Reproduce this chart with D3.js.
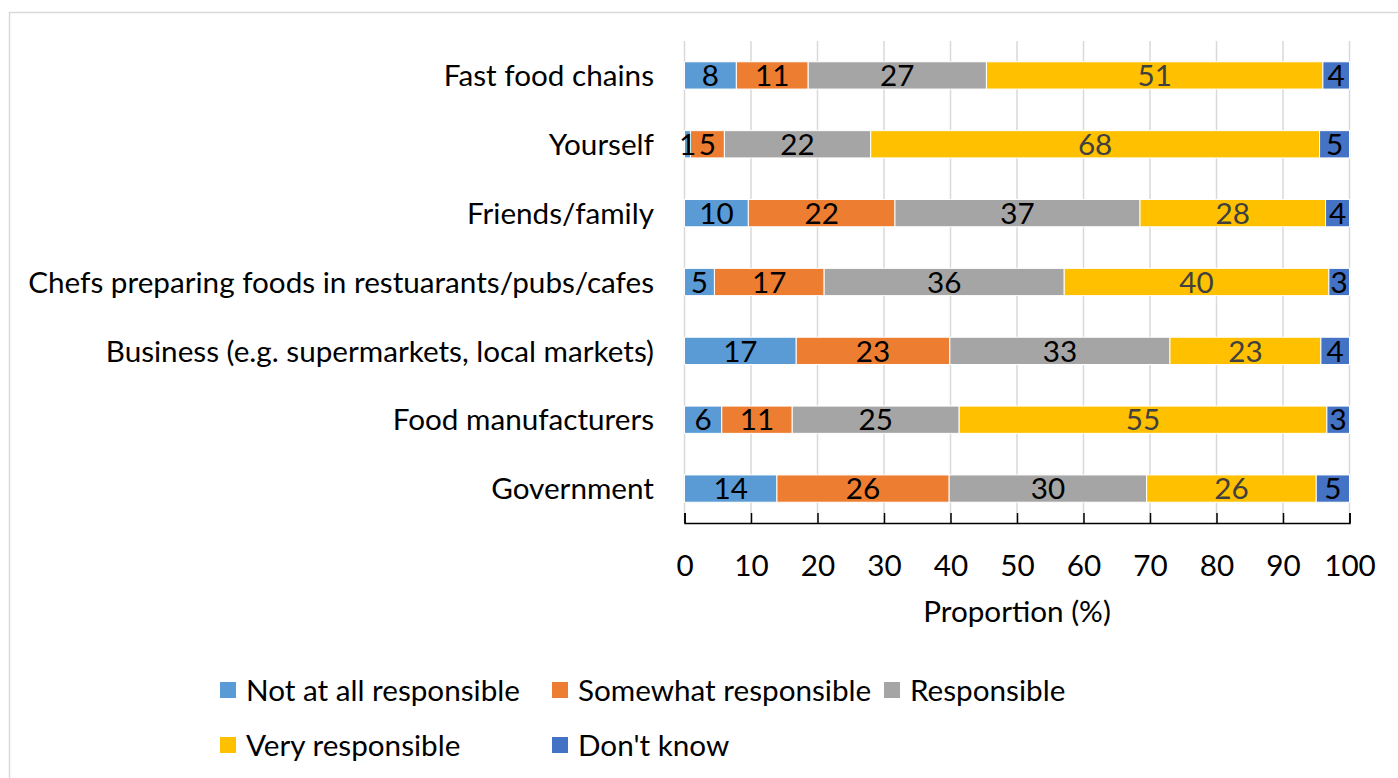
<!DOCTYPE html>
<html>
<head>
<meta charset="utf-8">
<script src="https://cdn.jsdelivr.net/npm/d3@7"></script>
<style>
  html, body { margin: 0; padding: 0; background: #ffffff; }
  svg { display: block; }
</style>
</head>
<body>
<svg id="chart" width="1398" height="778"></svg>
<script>
const categories = [
  "Fast food chains",
  "Yourself",
  "Friends/family",
  "Chefs preparing foods in restuarants/pubs/cafes",
  "Business (e.g. supermarkets, local markets)",
  "Food manufacturers",
  "Government"
];
const seriesNames = ["Not at all responsible", "Somewhat responsible", "Responsible", "Very responsible", "Don't know"];
const notAtAll   = [7.8, 0.9, 9.6, 4.5, 16.8, 5.6, 13.9];
const somewhat   = [10.8, 5.1, 22.05, 16.5, 23.1, 10.6, 25.9];
const responsible= [26.8, 22.0, 36.85, 36.1, 33.1, 25.1, 29.7];
const very       = [50.6, 67.5, 27.9, 39.8, 22.7, 55.3, 25.5];
const dontKnow   = [4.0, 4.5, 3.6, 3.1, 4.3, 3.4, 5.0];
const xTicks = [0, 10, 20, 30, 40, 50, 60, 70, 80, 90, 100];
const xTitle = "Proportion (%)";

const colors = ["#5B9BD5", "#ED7D31", "#A5A5A5", "#FFC000", "#4472C4"];
const labelColors = ["#000000", "#000000", "#000000", "#404040", "#000000"];
const FONT = "Lato, 'Open Sans', sans-serif";

const svg = d3.select("#chart");

// outer frame
svg.append("rect").attr("x", 9.5).attr("y", 12.5).attr("width", 1420).attr("height", 800)
  .attr("fill", "#ffffff").attr("stroke", "#D9D9D9").attr("stroke-width", 1.5);

// fit font size to target width of the widest category label
const probe = svg.append("text").attr("font-family", FONT).attr("font-size", 24).text(categories[3]);
const w24 = probe.node().getComputedTextLength();
probe.remove();
const FS = 24 * 626 / w24;

const rows = categories.map((c, i) => ({
  cat: c,
  vals: [notAtAll[i], somewhat[i], responsible[i], very[i], dontKnow[i]]
}));
const keys = [0, 1, 2, 3, 4];
const stacked = d3.stack().keys(keys).value((d, k) => d.vals[k])(rows);

const x = d3.scaleLinear().domain([0, 100]).range([684.5, 1349.5]);
const y = d3.scaleBand().domain(categories).range([41, 523]).paddingInner(0.604).paddingOuter(0.302);

// gridlines
svg.append("g").selectAll("line").data(xTicks).join("line")
  .attr("x1", d => x(d)).attr("x2", d => x(d))
  .attr("y1", 41).attr("y2", 523)
  .attr("stroke", "#D9D9D9").attr("stroke-width", 1.5);

// bars
const gBars = svg.append("g");
stacked.forEach((layer, li) => {
  gBars.append("g").selectAll("rect").data(layer).join("rect")
    .attr("x", d => x(d[0]))
    .attr("width", d => x(d[1]) - x(d[0]))
    .attr("y", d => y(d.data.cat))
    .attr("height", y.bandwidth())
    .attr("fill", colors[li])
    .attr("stroke", "#ffffff").attr("stroke-width", 1);
});

// data labels
stacked.forEach((layer, li) => {
  svg.append("g").selectAll("text").data(layer).join("text")
    .attr("x", d => (x(d[0]) + x(d[1])) / 2)
    .attr("y", d => y(d.data.cat) + y.bandwidth() / 2)
    .attr("dy", "0.36em")
    .attr("text-anchor", "middle")
    .attr("font-family", FONT).attr("font-size", FS)
    .attr("fill", labelColors[li])
    .text(d => Math.round(d[1] - d[0]));
});

// x axis
const xAxis = d3.axisBottom(x).tickValues(xTicks).tickSizeInner(-10).tickSizeOuter(-10).tickPadding(38);
const gx = svg.append("g").attr("transform", "translate(0,523)").call(xAxis);
gx.select(".domain").attr("stroke", "#000000").attr("stroke-width", 1.5);
gx.selectAll(".tick line").attr("stroke", "#000000").attr("stroke-width", 1.5);
gx.selectAll(".tick text").attr("font-family", FONT).attr("font-size", FS).attr("fill", "#000000")
  .attr("dy", "0.36em").attr("y", 42);

svg.append("text").attr("x", x(50)).attr("y", 611).attr("dy", "0.36em")
  .attr("text-anchor", "middle").attr("font-family", FONT).attr("font-size", FS).attr("fill", "#000000")
  .text(xTitle);

// category labels
svg.append("g").selectAll("text").data(categories).join("text")
  .attr("x", 654).attr("y", d => y(d) + y.bandwidth() / 2).attr("dy", "0.36em")
  .attr("text-anchor", "end").attr("font-family", FONT).attr("font-size", FS).attr("fill", "#000000")
  .text(d => d);

// legend
const legendPos = [[220, 690], [552, 690], [884, 690], [220, 745], [552, 745]];
const lg = svg.append("g").selectAll("g").data(seriesNames).join("g")
  .attr("transform", (d, i) => `translate(${legendPos[i][0]},${legendPos[i][1]})`);
lg.append("rect").attr("x", 0).attr("y", -8).attr("width", 16).attr("height", 16)
  .attr("fill", (d, i) => colors[i]);
lg.append("text").attr("x", 26).attr("y", 0).attr("dy", "0.36em")
  .attr("font-family", FONT).attr("font-size", FS).attr("fill", "#000000")
  .text(d => d);
</script>
</body>
</html>
